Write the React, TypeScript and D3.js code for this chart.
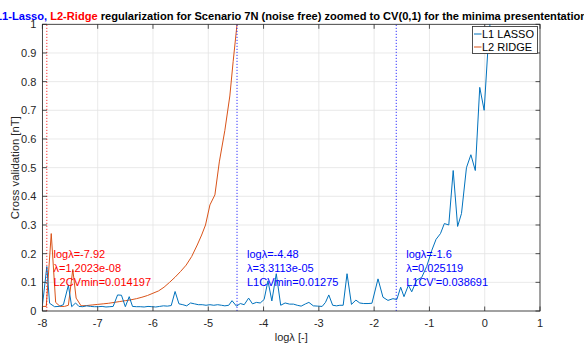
import * as d3 from 'd3';

// L1 LASSO cross-validation curve (logλ, CV)
const l1LogLambda = [
  -8.0, -7.92, -7.87, -7.78, -7.7, -7.62, -7.53, -7.47, -7.4, -7.34, -7.27, -7.2, -7.13, -7.06,
  -6.99, -6.92, -6.85, -6.78, -6.72, -6.64, -6.57, -6.5, -6.43, -6.37, -6.3, -6.23, -6.16, -6.09,
  -6.02, -5.95, -5.88, -5.81, -5.74, -5.67, -5.6, -5.53, -5.46, -5.39, -5.32, -5.25, -5.18, -5.11,
  -5.04, -4.97, -4.9, -4.83, -4.76, -4.7, -4.63, -4.57, -4.49, -4.42, -4.35, -4.27, -4.2, -4.13,
  -4.06, -3.99, -3.92, -3.85, -3.77, -3.69, -3.61, -3.53, -3.46, -3.39, -3.32, -3.24, -3.18,
  -3.1, -3.02, -2.94, -2.88, -2.82, -2.75, -2.68, -2.62, -2.56, -2.49, -2.41, -2.33, -2.26,
  -2.19, -2.11, -2.04, -1.93, -1.84, -1.75, -1.66, -1.59, -1.52, -1.46, -1.38, -1.32, -1.23,
  -1.14, -1.05, -0.96, -0.88, -0.8, -0.73, -0.65, -0.57, -0.49, -0.42, -0.33, -0.25, -0.17,
  -0.09, -0.01, 0.06, 0.14,
];
const l1Cv = [
  0.018, 0.155, 0.027, 0.015, 0.016, 0.022, 0.09, 0.015, 0.028, 0.016, 0.015, 0.018, 0.016, 0.015,
  0.015, 0.016, 0.014, 0.015, 0.016, 0.056, 0.055, 0.015, 0.05, 0.016, 0.015, 0.015, 0.014, 0.016,
  0.015, 0.014, 0.016, 0.018, 0.017, 0.019, 0.068, 0.025, 0.022, 0.018, 0.028, 0.025, 0.022, 0.022,
  0.02, 0.022, 0.02, 0.022, 0.02, 0.018, 0.02, 0.036, 0.017, 0.026, 0.022, 0.045, 0.025, 0.03,
  0.028, 0.04, 0.105, 0.035, 0.13, 0.02, 0.028, 0.024, 0.024, 0.02, 0.017, 0.025, 0.03,
  0.018, 0.017, 0.016, 0.03, 0.056, 0.02, 0.018, 0.02, 0.02, 0.13, 0.023, 0.038, 0.028,
  0.026, 0.026, 0.027, 0.112, 0.048, 0.037, 0.043, 0.04, 0.083, 0.05, 0.09, 0.067, 0.108,
  0.117, 0.155, 0.21, 0.25, 0.27, 0.305, 0.3, 0.49, 0.295, 0.34, 0.5, 0.545, 0.49,
  0.78, 0.7, 0.92, 1.1,
];

// L2 RIDGE cross-validation curve (logλ, CV)
const l2LogLambda = [
  -8.0, -7.93, -7.84, -7.76, -7.68, -7.6, -7.53, -7.45, -7.39, -7.3, -7.2, -7.1, -7.0, -6.9, -6.8,
  -6.7, -6.6, -6.5, -6.4, -6.3, -6.2, -6.1, -6.0, -5.9, -5.8, -5.7, -5.6, -5.5, -5.4, -5.3, -5.2,
  -5.12, -5.05, -4.97, -4.88, -4.8, -4.7, -4.61, -4.55, -4.48, -4.42,
];
const l2Cv = [
  0.016, 0.016, 0.27, 0.03, 0.016, 0.016, 0.02, 0.145, 0.045, 0.018, 0.019, 0.021, 0.023, 0.025, 0.027,
  0.03, 0.033, 0.036, 0.039, 0.043, 0.048, 0.054, 0.062, 0.07, 0.083, 0.1, 0.118, 0.138, 0.16, 0.19, 0.23,
  0.265, 0.3, 0.37, 0.405, 0.52, 0.63, 0.75, 0.87, 1.0, 1.1,
];

// minima markers and annotations
const markerLogLambda = [-7.92, -4.48, -1.6];
const markerColor = ['#ff0000', '#0000ff', '#0000ff'];
const noteLogLambda = [-7.8, -4.3, -1.42];
const noteY = [0.15, 0.15, 0.15];
const noteLines = [
  ['logλ=-7.92', 'λ=1.2023e-08', 'L2CVmin=0.014197'],
  ['logλ=-4.48', 'λ=3.3113e-05', 'L1CVmin=0.01275'],
  ['logλ=-1.6', 'λ=0.025119', "L1CV'=0.038691"],
];

const xTicks = [-8, -7, -6, -5, -4, -3, -2, -1, 0, 1];
const yTicks = [0, 0.1, 0.2, 0.3, 0.4, 0.5, 0.6, 0.7, 0.8, 0.9, 1];
const legendLabels = ['L1 LASSO', 'L2 RIDGE'];
const seriesColors = ['#0072bd', '#d95319'];

const W = 584;
const H = 345;
const FONT = "'Liberation Sans', Arial, Helvetica, sans-serif";
const AX = '#262626';

export default function App() {
  const x = d3.scaleLinear().domain([-8, 1]).range([42.4, 540]);
  const y = d3.scaleLinear().domain([0, 1]).range([311, 24.3]);
  const [x0, x1] = x.range();
  const [y0, y1] = y.range();
  const cx = (x0 + x1) / 2;

  const line = d3.line<[number, number]>().x((d) => x(d[0])).y((d) => y(d[1]));
  const l1Path = line(l1LogLambda.map((v, i) => [v, l1Cv[i]] as [number, number])) || '';
  const l2Path = line(l2LogLambda.map((v, i) => [v, l2Cv[i]] as [number, number])) || '';

  const tick = 4.5;
  const lgX = 472.5;
  const lgY = 26.5;

  return (
    <svg width={W} height={H} style={{ position: 'absolute', left: 0, top: 0, background: '#fff' }}
      fontFamily={FONT}>
      <defs>
        <clipPath id="plot">
          <rect x={x0} y={y1} width={x1 - x0} height={y0 - y1} />
        </clipPath>
      </defs>
      <rect x={x0} y={y1} width={x1 - x0} height={y0 - y1} fill="#fff" />

      {/* grid */}
      {xTicks.map((t) => (
        <line key={'gx' + t} x1={x(t)} x2={x(t)} y1={y0} y2={y1} stroke="#e3e3e3" strokeWidth={0.8} />
      ))}
      {yTicks.map((t) => (
        <line key={'gy' + t} x1={x0} x2={x1} y1={y(t)} y2={y(t)} stroke="#e3e3e3" strokeWidth={0.8} />
      ))}

      {/* curves */}
      <g clipPath="url(#plot)" fill="none">
        <path d={l2Path} stroke={seriesColors[1]} strokeWidth={1} />
        <path d={l1Path} stroke={seriesColors[0]} strokeWidth={1} />
        {markerLogLambda.map((m, i) => (
          <line key={'m' + i} x1={x(m)} x2={x(m)} y1={y(0)} y2={y(1)} stroke={markerColor[i]}
            strokeWidth={1} strokeDasharray="1.2,1.8" opacity={0.8} />
        ))}
      </g>

      {/* annotations */}
      {noteLines.map((lines, i) => (
        <text key={'n' + i} x={x(noteLogLambda[i])} y={y(noteY[i])} fill={markerColor[i]} fontSize={11}>
          {lines.map((s, j) => (
            <tspan key={j} x={x(noteLogLambda[i])} dy={j === 0 ? -10 : 14.2}>{s}</tspan>
          ))}
        </text>
      ))}

      {/* box + ticks */}
      <rect x={x0} y={y1} width={x1 - x0} height={y0 - y1} fill="none" stroke={AX} strokeWidth={0.8} />
      {xTicks.map((t) => (
        <g key={'tx' + t} stroke={AX} strokeWidth={0.8}>
          <line x1={x(t)} x2={x(t)} y1={y0} y2={y0 - tick} />
          <line x1={x(t)} x2={x(t)} y1={y1} y2={y1 + tick} />
        </g>
      ))}
      {yTicks.map((t) => (
        <g key={'ty' + t} stroke={AX} strokeWidth={0.8}>
          <line x1={x0} x2={x0 + tick} y1={y(t)} y2={y(t)} />
          <line x1={x1} x2={x1 - tick} y1={y(t)} y2={y(t)} />
        </g>
      ))}
      {xTicks.map((t) => (
        <text key={'lx' + t} x={x(t)} y={y0 + 16} textAnchor="middle" fontSize={11} fill={AX}>
          {t < 0 ? '-' + Math.abs(t) : String(t)}
        </text>
      ))}
      {yTicks.map((t) => (
        <text key={'ly' + t} x={x0 - 6} y={y(t) + 4} textAnchor="end" fontSize={11} fill={AX}>
          {String(t)}
        </text>
      ))}

      <text x={cx} y={340.5} textAnchor="middle" fontSize={11} fill={AX}>logλ [-]</text>
      <text transform={`translate(19,${(y0 + y1) / 2}) rotate(-90)`} textAnchor="middle" fontSize={11.3} fill={AX}>
        Cross validation [nT]
      </text>

      {/* title */}
      <text x={cx} y={19.5} textAnchor="middle" fontSize={11.1} fontWeight="bold" fill="#000">
        <tspan fill="#0000ff">L1-Lasso, </tspan>
        <tspan fill="#ff0000">L2-Ridge</tspan>
        <tspan> regularization for Scenario 7N (noise free) zoomed to CV(0,1) for the minima presententation</tspan>
      </text>

      {/* legend */}
      <rect x={lgX} y={lgY} width={65} height={27} fill="#fff" stroke={AX} strokeWidth={0.8} />
      {legendLabels.map((l, i) => (
        <g key={'lg' + i}>
          <line x1={lgX + 1.5} x2={lgX + 9} y1={lgY + 7.5 + i * 13} y2={lgY + 7.5 + i * 13}
            stroke={seriesColors[i]} strokeWidth={1} />
          <text x={lgX + 9.5} y={lgY + 11.5 + i * 13} fontSize={11} fill="#000">{l}</text>
        </g>
      ))}
    </svg>
  );
}
